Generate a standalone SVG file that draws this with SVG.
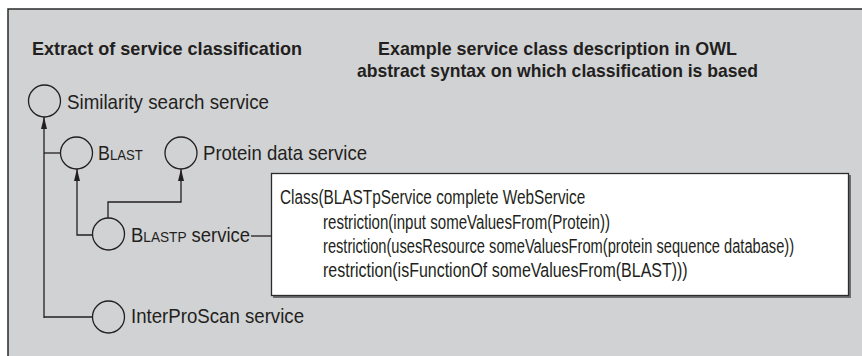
<svg xmlns="http://www.w3.org/2000/svg" width="862" height="356" viewBox="0 0 862 356">
<style>
.panel{fill:#d1d2d4;stroke:#2b2b2b;stroke-width:1.5}
.node circle{fill:#d1d2d4;stroke:#231f20;stroke-width:1.3}
.title{font-family:"Liberation Sans",Arial,sans-serif;font-weight:bold;font-size:19px;fill:#231f20}
.lbl{font-family:"Liberation Sans",Arial,sans-serif;font-size:21px;fill:#231f20}
.sc{font-size:15.5px}
.code{font-family:"Liberation Sans",Arial,sans-serif;font-size:21px;fill:#231f20}
.conn{fill:none;stroke:#231f20;stroke-width:1.3}
</style>
<defs>
<marker id="arr" viewBox="0 0 12 6" refX="12" refY="3" markerWidth="12" markerHeight="6" markerUnits="userSpaceOnUse" orient="auto">
<path d="M0,0 L12,3 L0,6 Z" fill="#231f20"/>
</marker>
</defs>
<rect class="panel" x="8" y="9" width="870" height="360"/>
<g id="titles">
<text class="title" x="32" y="55" textLength="270" lengthAdjust="spacingAndGlyphs">Extract of service classification</text>
<text class="title" x="378" y="55" textLength="359" lengthAdjust="spacingAndGlyphs">Example service class description in OWL</text>
<text class="title" x="357" y="77" textLength="401" lengthAdjust="spacingAndGlyphs">abstract syntax on which classification is based</text>
</g>
<g id="connectors">
<path class="conn" d="M44,318 V117" marker-end="url(#arr)"/>
<path class="conn" d="M44,153 H60"/>
<path class="conn" d="M44,317 H92"/>
<path class="conn" d="M92,235 H77 V169" marker-end="url(#arr)"/>
<path class="conn" d="M108,218 V202 H181 V169" marker-end="url(#arr)"/>
<path class="conn" d="M251,236 H271"/>
</g>
<g id="node-similarity" class="node">
<circle cx="44.5" cy="101" r="16"/>
<text class="lbl" x="67" y="109" textLength="202" lengthAdjust="spacingAndGlyphs">Similarity search service</text>
</g>
<g id="node-blast" class="node">
<circle cx="76.5" cy="153" r="16"/>
<text class="lbl" transform="translate(98,160) scale(0.85,1)">B<tspan class="sc">LAST</tspan></text>
</g>
<g id="node-protein" class="node">
<circle cx="181" cy="153" r="16"/>
<text class="lbl" x="203" y="160" textLength="164" lengthAdjust="spacingAndGlyphs">Protein data service</text>
</g>
<g id="node-blastp" class="node">
<circle cx="108.5" cy="234" r="16"/>
<text class="lbl" transform="translate(131,242) scale(0.88,1)">B<tspan class="sc">LASTP</tspan> service</text>
</g>
<g id="node-interproscan" class="node">
<circle cx="108.5" cy="317" r="16"/>
<text class="lbl" x="131" y="323" textLength="173" lengthAdjust="spacingAndGlyphs">InterProScan service</text>
</g>
<g id="node-owl">
<rect x="273" y="175" width="578" height="123" fill="#6d6e70"/>
<rect x="271.5" y="173.5" width="577" height="122" fill="#ffffff" stroke="#2b2b2b" stroke-width="1.3"/>
<text class="code" transform="translate(280,204) scale(0.7,1)" textLength="436" lengthAdjust="spacingAndGlyphs">Class(BLASTpService complete WebService</text>
<text class="code" transform="translate(323,228.5) scale(0.7,1)" textLength="410" lengthAdjust="spacingAndGlyphs">restriction(input someValuesFrom(Protein))</text>
<text class="code" transform="translate(323,252.5) scale(0.7,1)" textLength="673" lengthAdjust="spacingAndGlyphs">restriction(usesResource someValuesFrom(protein sequence database))</text>
<text class="code" transform="translate(323,276.5) scale(0.7,1)" textLength="521" lengthAdjust="spacingAndGlyphs">restriction(isFunctionOf someValuesFrom(BLAST)))</text>
</g>
</svg>
